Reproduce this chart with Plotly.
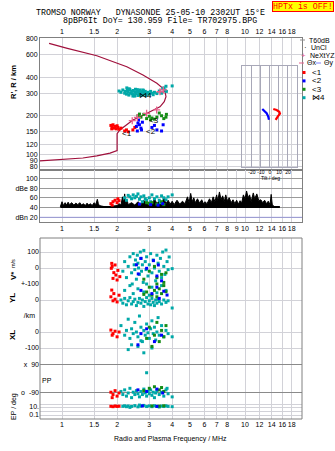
import math
import plotly.graph_objects as go

W, H = 335, 451

# ---------------- data ----------------
freq_ticks = [1, 1.5, 2, 3, 4, 5, 6, 7, 8, 10, 12, 14, 16, 18]
freq_ticks_mid = [1, 1.5, 2, 3, 4, 5, 6, 7, 8, 9, 10, 12, 14, 16, 18]
height_ticks = [80, 90, 100, 120, 150, 200, 300, 400, 600, 800]
dbe_ticks = [20, 40, 60, 80, 100]
dbe_labels = ["dBn 20", "40", "60", "dBe 80", "100"]
tilt_ticks = [-20, -10, 0, 10, 20]

# electron density profile (plasma frequency MHz, height km)
profile_f = [0.75, 1.0, 1.30, 1.55, 1.83, 2.0, 2.0, 2.0, 2.07, 2.25, 2.44, 2.7, 2.91,
             3.2, 3.43, 3.62, 3.70, 3.66, 3.56, 3.30, 2.77, 2.26, 1.55, 1.07, 0.85]
profile_h = [88.7, 91, 93.5, 97, 102, 107, 125, 145, 155, 170, 185, 198, 209,
             222, 235, 258, 282, 305, 327, 359, 416, 483, 589, 673, 736]
nextyz_f = [2.42, 2.58, 2.90, 3.29, 3.58, 3.43]
nextyz_h = [183, 194, 209, 222, 318, 308]

# echo traces in the R' panel (freq MHz, virtual range km)
rng_red = [(1.85, 168), (1.88, 163), (1.9, 170), (1.93, 160), (1.95, 165), (1.98, 158),
           (2.0, 167), (2.02, 162), (2.05, 157), (2.1, 160), (2.2, 152), (2.25, 155),
           (2.3, 150), (2.44, 155), (2.5, 162), (1.87, 158)]
rng_blue = [(2.55, 165), (2.6, 175), (2.62, 185), (2.65, 170), (2.7, 160), (2.58, 152),
            (2.72, 155), (2.75, 178), (3.1, 162), (3.2, 168), (3.3, 155), (3.5, 152), (3.57, 170)]
rng_green = [(2.6, 200), (2.7, 195), (2.8, 205), (2.9, 190), (3.0, 198), (3.1, 192),
             (3.2, 188), (3.3, 195), (3.4, 210), (3.5, 200), (3.6, 190), (3.7, 195),
             (3.72, 205), (2.65, 206), (3.05, 186)]
rng_cyan = [(2.05, 312), (2.1, 305), (2.15, 318), (2.2, 300), (2.22, 310), (2.25, 295),
            (2.28, 315), (2.3, 305), (2.32, 290), (2.35, 320), (2.37, 300), (2.4, 310),
            (2.42, 297), (2.45, 315), (2.47, 292), (2.5, 305), (2.52, 322), (2.55, 298),
            (2.57, 310), (2.6, 288), (2.62, 312), (2.65, 300), (2.67, 318), (2.7, 295),
            (2.72, 308), (2.75, 290), (2.78, 315), (2.8, 302), (2.83, 296), (2.85, 310),
            (2.88, 288), (2.9, 300), (2.95, 305), (3.0, 295), (3.05, 310), (3.1, 300),
            (3.15, 292), (3.2, 305), (3.3, 298), (3.4, 312), (3.5, 300), (3.55, 325),
            (3.6, 330), (3.65, 318), (3.7, 340), (3.72, 310), (4.0, 342), (2.33, 325),
            (2.44, 285), (2.58, 320), (2.68, 290), (2.77, 318), (2.26, 330), (2.5, 285)]

# tilt (deg, km)
tilt_red = [(3.7, 226), (7.4, 222), (10.3, 215), (11.1, 208), (8.6, 197), (7.0, 191), (6.3, 186)]
tilt_blue = [(-8.5, 226), (-6.3, 217), (-3.7, 210), (-1.9, 197), (-1.1, 186)]

# amplitude panel (freq MHz, dB)
amp_env = [(0.98, 42), (1.0, 52), (1.02, 44), (1.04, 50), (1.06, 45), (1.08, 51), (1.1, 46),
           (1.13, 50), (1.16, 45), (1.19, 49), (1.22, 46), (1.25, 50), (1.28, 45), (1.31, 48),
           (1.34, 44), (1.37, 49), (1.4, 45), (1.43, 48), (1.46, 44), (1.5, 50), (1.53, 46),
           (1.56, 57), (1.58, 48), (1.6, 44), (1.65, 43), (1.7, 42), (1.8, 42), (1.9, 43),
           (2.0, 44), (2.05, 48), (2.1, 45), (2.14, 62), (2.17, 50), (2.2, 68), (2.23, 48),
           (2.27, 55), (2.3, 46), (2.4, 50), (2.5, 45), (2.6, 52), (2.7, 46), (2.8, 55),
           (2.9, 47), (3.0, 52), (3.1, 46), (3.2, 58), (3.3, 48), (3.4, 54), (3.5, 46),
           (3.6, 60), (3.7, 48), (3.8, 55), (3.9, 47), (4.0, 53), (4.1, 46), (4.25, 55),
           (4.4, 47), (4.55, 53), (4.7, 48), (4.85, 62), (4.95, 50), (5.05, 69), (5.15, 52),
           (5.25, 60), (5.35, 50), (5.5, 58), (5.65, 49), (5.8, 56), (5.95, 47), (6.05, 52),
           (6.2, 48), (6.4, 58), (6.55, 50), (6.7, 62), (6.85, 52), (7.0, 66), (7.1, 54),
           (7.25, 72), (7.4, 56), (7.55, 64), (7.7, 52), (7.85, 66), (8.0, 54), (8.2, 60),
           (8.4, 50), (8.6, 56), (8.8, 48), (9.0, 55), (9.2, 47), (9.4, 54), (9.6, 50),
           (9.8, 66), (10.0, 58), (10.2, 74), (10.4, 60), (10.6, 66), (10.8, 52), (11.1, 70),
           (11.3, 58), (11.6, 68), (11.9, 54), (12.2, 56), (12.5, 50), (12.8, 55), (13.1, 48),
           (13.4, 53), (13.7, 46), (13.9, 67), (14.1, 45), (14.5, 42), (15.5, 41)]
amp_base_f = [0.98, 15.5]
amp_base_v = [41, 41]
amp_red = [(1.85, 48), (1.9, 52), (1.95, 55), (2.0, 50), (2.02, 58), (2.05, 54), (1.88, 45)]
amp_cyan = [(2.2, 60), (2.25, 55), (2.3, 65), (2.35, 62), (2.4, 58), (2.45, 66), (2.5, 60),
            (2.55, 63), (2.6, 68), (2.65, 57), (2.7, 62), (2.8, 64), (2.85, 58), (2.9, 55),
            (3.0, 60), (3.1, 66), (3.2, 58), (3.3, 62), (3.4, 55), (3.5, 64), (3.6, 60),
            (3.7, 56), (3.8, 62), (4.0, 66), (2.75, 52), (3.05, 52), (3.45, 50)]
amp_green = [(3.0, 48), (3.1, 50), (3.3, 47), (3.5, 52), (3.6, 46), (2.9, 50)]
amp_blue = [(3.05, 46), (3.35, 45), (3.55, 48), (2.65, 47)]

# V* (m/s)
vs_red = [(1.87, 29), (1.95, 19), (1.86, -2), (1.92, -29), (1.97, -44), (1.9, -65),
          (2.0, -75), (2.07, -54), (1.88, 10), (2.02, -15)]
vs_blue = [(2.61, -37), (2.9, -2), (3.16, 46), (3.36, 19), (2.7, 60), (3.3, -50), (2.55, 20), (3.5, -80)]
vs_green = [(3.0, -20), (3.3, -60), (3.5, -40), (3.6, -90), (2.8, -70), (3.2, 10), (3.7, -30)]
vs_cyan = [(2.15, -20), (2.2, 40), (2.25, -60), (2.3, 10), (2.35, 70), (2.4, -30), (2.45, 90),
           (2.48, 20), (2.5, -10), (2.52, 50), (2.55, -70), (2.58, 80), (2.6, 30), (2.62, 0),
           (2.65, -40), (2.68, 100), (2.7, 60), (2.72, -20), (2.75, 20), (2.78, -90), (2.8, 110),
           (2.85, 40), (2.88, -10), (2.9, 70), (2.95, -50), (3.0, 20), (3.05, 90), (3.1, -30),
           (3.15, 50), (3.2, 0), (3.25, -80), (3.3, 80), (3.35, 30), (3.4, -20), (3.45, 60),
           (3.5, -60), (3.55, 100), (3.6, 10), (3.65, -40), (3.7, 112), (3.75, 40), (3.8, -10),
           (4.0, -4), (3.85, 69), (2.42, -100), (2.65, -110)]
# YL (km)
yl_red = [(1.87, 62), (1.92, 40), (1.85, 20), (1.95, 5), (2.0, -12), (2.05, 30), (1.9, -5)]
yl_cyan = [(2.1, 0), (2.15, -20), (2.2, 10), (2.25, -30), (2.3, -5), (2.35, 15), (2.4, -25),
           (2.45, -10), (2.5, 5), (2.55, -35), (2.6, -15), (2.65, 10), (2.7, -20), (2.75, 0),
           (2.8, -40), (2.85, -10), (2.9, 15), (2.95, -25), (3.0, -5), (3.05, -30), (3.1, 10),
           (3.15, -15), (3.2, -35), (3.25, 0), (3.3, -20), (3.35, 5), (3.4, -10), (3.5, -25),
           (3.6, 0), (3.7, -15), (3.8, -5), (4.0, -50), (2.2, 60), (2.35, 90), (2.45, 40),
           (2.6, 70), (2.8, 50), (2.9, 100), (3.1, 80), (3.3, 45), (3.5, 90), (3.7, 60),
           (2.5, 120), (3.0, 30)]
yl_green = [(2.9, 50), (3.0, 80), (3.1, 30), (3.2, 60), (3.3, 20), (3.4, 70), (3.5, 40),
            (3.6, 90), (2.8, 35), (3.3, 100), (3.7, 52)]
yl_blue = [(2.7, 60), (3.1, 40), (3.3, 80), (3.6, 55), (3.4, 10), (3.75, 31)]
# XL (km)
xl_red = [(1.85, 12), (1.9, -10), (1.95, 5), (2.0, -30), (1.88, -20), (2.05, 0)]
xl_cyan = [(2.1, 40), (2.2, -20), (2.25, 10), (2.3, 80), (2.35, -40), (2.4, 20), (2.45, -10),
           (2.5, 60), (2.55, 0), (2.6, -30), (2.65, 100), (2.7, 30), (2.75, -60), (2.8, 10),
           (2.85, -20), (2.9, 50), (2.95, -5), (3.0, -40), (3.05, 20), (3.1, 70), (3.15, -10),
           (3.2, 30), (3.25, -50), (3.3, 0), (3.35, 90), (3.4, -20), (3.5, 40), (3.6, -30),
           (3.7, 10), (3.8, -10), (4.0, -30), (2.4, -80), (2.3, -110), (2.6, -90), (3.1, -100),
           (2.8, -130), (2.7, -55)]
xl_green = [(2.9, -40), (3.0, 30), (3.2, -20), (3.3, 60), (3.4, -60), (3.5, 10), (3.6, -30),
            (3.7, 40), (3.1, -90)]
xl_blue = [(2.7, -10), (2.9, 20), (3.2, -60), (3.5, -20), (2.6, -80)]
# PP (deg)
pp_red = [(1.85, -85), (1.9, -100), (1.95, -75), (2.0, -110), (1.88, -120), (2.05, -90)]
pp_cyan = [(2.1, -80), (2.15, -100), (2.2, -70), (2.25, -110), (2.3, -90), (2.35, -60),
           (2.4, -120), (2.45, -85), (2.5, -100), (2.55, -75), (2.6, -95), (2.65, -115),
           (2.7, -80), (2.75, -100), (2.8, -65), (2.85, -90), (2.9, -110), (2.95, -80),
           (3.0, -95), (3.05, -70), (3.1, -105), (3.15, -85), (3.2, -120), (3.25, -90),
           (3.3, -75), (3.4, -100), (3.5, -85), (3.6, -110), (3.7, -70), (3.8, -95),
           (4.0, -115), (2.9, 40), (3.75, -60)]
pp_green = [(3.0, -60), (3.2, -50), (3.4, -70), (3.5, -55), (3.6, -80), (2.8, -75)]
pp_blue = [(2.6, -70), (2.9, -80), (3.3, -65), (3.55, -90)]
# EP (deg)
ep_red = [(1.85, 15), (1.9, 12), (1.95, 18), (2.0, 14), (2.05, 16)]
ep_cyan = [(2.15, 15), (2.2, 20), (2.25, 12), (2.3, 18), (2.4, 14), (2.5, 22), (2.6, 11),
           (2.7, 16), (2.8, 25), (2.9, 13), (3.0, 19), (3.1, 12), (3.2, 21), (3.3, 15),
           (3.4, 10), (3.5, 17), (3.6, 13), (3.7, 20), (3.8, 14), (4.0, 12), (2.35, 8), (2.65, 30)]
ep_green = [(3.1, 18), (3.4, 16), (3.6, 20)]
ep_blue = [(3.3, 14), (2.75, 19)]

# ---------------- style ----------------
RED, BLUE, GREEN, CYAN = "#ff0000", "#0000ff", "#148c14", "#00a8a8"
PROF = "#a0103c"
PINK = "#e8608c"
GRID = "#d2d2d8"
FRAME = "#808080"
FONT = "Liberation Sans"
MONO = "Liberation Mono"

def xd(a, b):
    return [a / W, b / W]

def yd(top, bottom):
    return [1 - bottom / H, 1 - top / H]

XR = [(40 - 62) / 183.0, (302 - 62) / 183.0]

def unzip(pairs):
    return [p[0] for p in pairs], [p[1] for p in pairs]

fig = go.Figure()

def pts(pairs, color, xa, ya, size=3.0):
    x, y = unzip(pairs)
    fig.add_trace(go.Scatter(x=x, y=y, mode="markers", xaxis=xa, yaxis=ya, cliponaxis=False,
                             marker=dict(symbol="square", size=size, color=color, line=dict(width=0)),
                             showlegend=False, hoverinfo="skip"))

# height panel
fig.add_trace(go.Scatter(x=profile_f, y=profile_h, mode="lines", xaxis="x", yaxis="y",
                         line=dict(color=PROF, width=1.2), showlegend=False))
pts(rng_red, RED, "x", "y")
pts(rng_blue, BLUE, "x", "y")
pts(rng_green, GREEN, "x", "y")
pts(rng_cyan, CYAN, "x", "y")
fig.add_trace(go.Scatter(x=nextyz_f, y=nextyz_h, mode="markers", xaxis="x", yaxis="y",
                         marker=dict(symbol="cross-thin-open", size=5, color=PINK,
                                     line=dict(width=1.3, color=PINK)), showlegend=False))

# tilt inset
tx, ty = unzip(tilt_red)
fig.add_trace(go.Scatter(x=tx, y=ty, mode="lines", xaxis="x8", yaxis="y8",
                         line=dict(color=RED, width=2.2), showlegend=False))
tx, ty = unzip(tilt_blue)
fig.add_trace(go.Scatter(x=tx, y=ty, mode="lines", xaxis="x8", yaxis="y8",
                         line=dict(color=BLUE, width=2.2), showlegend=False))

# amplitude panel
fig.add_trace(go.Scatter(x=amp_base_f, y=amp_base_v, mode="lines", xaxis="x2", yaxis="y2",
                         line=dict(color="black", width=2), showlegend=False))
ex, ey = unzip(amp_env)
fig.add_trace(go.Scatter(x=ex, y=ey, mode="lines", xaxis="x2", yaxis="y2", fill="tonexty",
                         fillcolor="black", line=dict(color="black", width=1), showlegend=False))
pts(amp_red, RED, "x2", "y2")
pts(amp_cyan, CYAN, "x2", "y2")
pts(amp_green, GREEN, "x2", "y2")
pts(amp_blue, BLUE, "x2", "y2")

# bottom panel
for data, ya in [((vs_red, vs_blue, vs_green, vs_cyan), "y3"),
                 ((yl_red, yl_blue, yl_green, yl_cyan), "y4"),
                 ((xl_red, xl_blue, xl_green, xl_cyan), "y5"),
                 ((pp_red, pp_blue, pp_green, pp_cyan), "y6"),
                 ((ep_red, ep_blue, ep_green, ep_cyan), "y7")]:
    r, b, g, c = data
    pts(c, CYAN, "x3", ya)
    pts(g, GREEN, "x3", ya)
    pts(b, BLUE, "x3", ya)
    pts(r, RED, "x3", ya)

tick_font = dict(family=FONT, size=7, color="black")
xcommon = dict(type="log", range=XR, showgrid=True, gridcolor=GRID, gridwidth=1,
               zeroline=False, ticks="", tickfont=tick_font, automargin=False,
               domain=xd(40, 302), tickangle=0)

def ftxt(v):
    return ("%g" % v)

layout = dict(
    width=W, height=H, margin=dict(l=0, r=0, t=0, b=0),
    paper_bgcolor="white", plot_bgcolor="rgba(0,0,0,0)", showlegend=False,
    xaxis=dict(xcommon, anchor="y", side="top", tickvals=freq_ticks,
               ticktext=[ftxt(v) for v in freq_ticks], showline=True, mirror=True,
               linecolor=FRAME, linewidth=1),
    yaxis=dict(type="log", domain=yd(38, 170), anchor="x",
               range=[1.877, 2.9085], tickvals=height_ticks,
               ticktext=[str(v) for v in height_ticks], showgrid=True, gridcolor=GRID,
               zeroline=False, ticks="", tickfont=tick_font, automargin=False,
               showline=True, mirror=True, linecolor=FRAME, linewidth=1),
    xaxis2=dict(xcommon, anchor="y2", side="bottom", tickvals=freq_ticks_mid,
                ticktext=[ftxt(v) for v in freq_ticks_mid], showline=True, mirror=True,
                linecolor=FRAME, linewidth=1),
    yaxis2=dict(domain=yd(170, 222), anchor="x2", range=[10.4, 117], tickvals=dbe_ticks,
                ticktext=dbe_labels, showgrid=True, gridcolor="#9a9a9a", zeroline=False,
                ticks="", tickfont=tick_font, automargin=False,
                showline=True, mirror=True, linecolor=FRAME, linewidth=1),
    xaxis3=dict(xcommon, anchor="y7", side="bottom", tickvals=freq_ticks,
                ticktext=[ftxt(v) for v in freq_ticks], showline=False),
    yaxis3=dict(domain=yd(238, 284), anchor="x3", range=[-100, 187.5], tickvals=[100, 0],
                ticktext=["100", "0"], showgrid=True, gridcolor=GRID, zeroline=False,
                ticks="", tickfont=tick_font, automargin=False),
    yaxis4=dict(domain=yd(284, 316), anchor="x3", range=[-100, 100], tickvals=[100, 0],
                ticktext=["+-100", "0"], showgrid=True, gridcolor=GRID, zeroline=False,
                ticks="", tickfont=tick_font, automargin=False),
    yaxis5=dict(domain=yd(316, 357), anchor="x3", range=[-156.25, 100], tickvals=[100, 0, -100],
                ticktext=["/km  ", "0", "-100"], showgrid=True, gridcolor=GRID, zeroline=False,
                ticks="", tickfont=tick_font, automargin=False),
    yaxis6=dict(domain=yd(357, 400), anchor="x3", range=[-135, 141], tickvals=[90, -90],
                ticktext=["x  90", "o  -90"], showgrid=True, gridcolor="#8a8a8a", zeroline=False,
                ticks="", tickfont=tick_font, automargin=False),
    yaxis7=dict(type="log", domain=yd(400, 419), anchor="x3", range=[-2, 2.75],
                tickvals=[50, 10, 1, 0.1], ticktext=["", "10.", "", "0.1"], showgrid=True,
                gridcolor=GRID, zeroline=False, ticks="", tickfont=tick_font, automargin=False),
    xaxis8=dict(domain=xd(242, 297), anchor="y8", range=[-31, 30], tickvals=tilt_ticks,
                ticktext=["-20", "-10", "0", "10", "20"], showgrid=True, gridcolor="#a8a8b8",
                zeroline=False, ticks="", tickfont=dict(family=FONT, size=5, color="black"),
                automargin=False, showline=True, mirror=True, linecolor="#a8a8b8",
                tickangle=0, ticklabelstandoff=0),
    yaxis8=dict(type="log", domain=yd(66, 167), anchor="x8", range=[1.901, 2.690],
                showgrid=False, showticklabels=False, zeroline=False, ticks="",
                showline=True, mirror=True, linecolor="#a8a8b8", automargin=False),
)
fig.update_layout(**layout)

shapes = [dict(type="rect", xref="paper", yref="paper", x0=40 / W, x1=302 / W,
               y0=1 - 419 / H, y1=1 - 238 / H, line=dict(color=FRAME, width=1))]
shapes.append(dict(type="line", xref="paper", yref="y2", x0=40 / W, x1=302 / W, y0=20, y1=20,
                   line=dict(color="#a0a0e0", width=1)))

ann = []

def txt(x, y, s, size=7, angle=0, color="black", family=FONT, xanchor="center", **kw):
    ann.append(dict(x=x / W, y=1 - y / H, xref="paper", yref="paper", text=s, showarrow=False,
                    font=dict(family=family, size=size, color=color), textangle=angle,
                    xanchor=xanchor, yanchor="middle", **kw))

txt(150, 12.5, "TROMSO NORWAY   DYNASONDE 25-05-10 2302UT 15°E", size=8.3, family=MONO)
txt(160, 20.5, "8pBP6It DoY= 130.959 File= TR702975.BPG", size=8.3, family=MONO)
ann.append(dict(x=302.5 / W, y=1 - 7 / H, xref="paper", yref="paper", text="HPTx is OFF!",
                showarrow=False, font=dict(family=MONO, size=8.3, color="#ff0000"),
                bgcolor="#ffff00", bordercolor="#ff0000", borderwidth=1, borderpad=0,
                xanchor="center", yanchor="middle"))

txt(13, 82, "<b>R', R / km</b>", size=7.5, angle=-90)
txt(13, 264, "m/s", size=5.5, angle=-90)
txt(13, 276, "<b>V*</b>", size=8, angle=-90)
txt(12, 298, "<b>YL</b>", size=8, angle=-90)
txt(12, 335, "<b>XL</b>", size=8, angle=-90)
txt(47, 380, "PP", size=7)
txt(14, 407, "EP / deg", size=7, angle=-90)
txt(170, 439, "Radio and Plasma Frequency / MHz", size=7)
txt(270, 178.5, "Tilt / deg", size=5)

# echo labels in the range panel
for s, f, h in [("<1", 2.26, 146), ("<2", 3.05, 150), ("<3", 3.18, 185), ("⋈4", 2.87, 287)]:
    ann.append(dict(x=math.log10(f), y=math.log10(h), xref="x", yref="y", text=s,
                    showarrow=False, font=dict(family=FONT, size=8, color="black"),
                    xanchor="center", yanchor="middle"))

# legend
shapes.append(dict(type="line", xref="paper", yref="paper", x0=300 / W, x1=305 / W,
                   y0=1 - 40 / H, y1=1 - 40 / H, line=dict(color="#909090", width=1)))
txt(307, 40, "T60dB", size=7, xanchor="left")
txt(305, 47, "·", size=8, xanchor="center")
txt(309, 47.5, "UnCl", size=7, xanchor="left")
txt(303, 55, "+", size=8, color=PINK, xanchor="center")
txt(308, 55, "NeXtYZ", size=7, xanchor="left")
shapes.append(dict(type="line", xref="paper", yref="paper", x0=299 / W, x1=304 / W,
                   y0=1 - 63 / H, y1=1 - 63 / H, line=dict(color=PINK, width=1)))
txt(305, 63, "Θx", size=7, xanchor="left")
shapes.append(dict(type="line", xref="paper", yref="paper", x0=316 / W, x1=321 / W,
                   y0=1 - 63 / H, y1=1 - 63 / H, line=dict(color="#8080ff", width=1)))
txt(322, 63, "Θy", size=7, xanchor="left")
for i, (c, s) in enumerate([(RED, "<1"), (BLUE, "<2"), (GREEN, "<3"), (CYAN, "⋈4")]):
    yy = 72.5 + i * 8.4
    shapes.append(dict(type="rect", xref="paper", yref="paper", x0=302.5 / W, x1=305.5 / W,
                       y0=1 - (yy + 1.5) / H, y1=1 - (yy - 1.5) / H, fillcolor=c,
                       line=dict(width=0)))
    txt(310, yy, s, size=8, xanchor="left")

fig.update_layout(shapes=shapes, annotations=ann)
fig.write_html("out.html")
